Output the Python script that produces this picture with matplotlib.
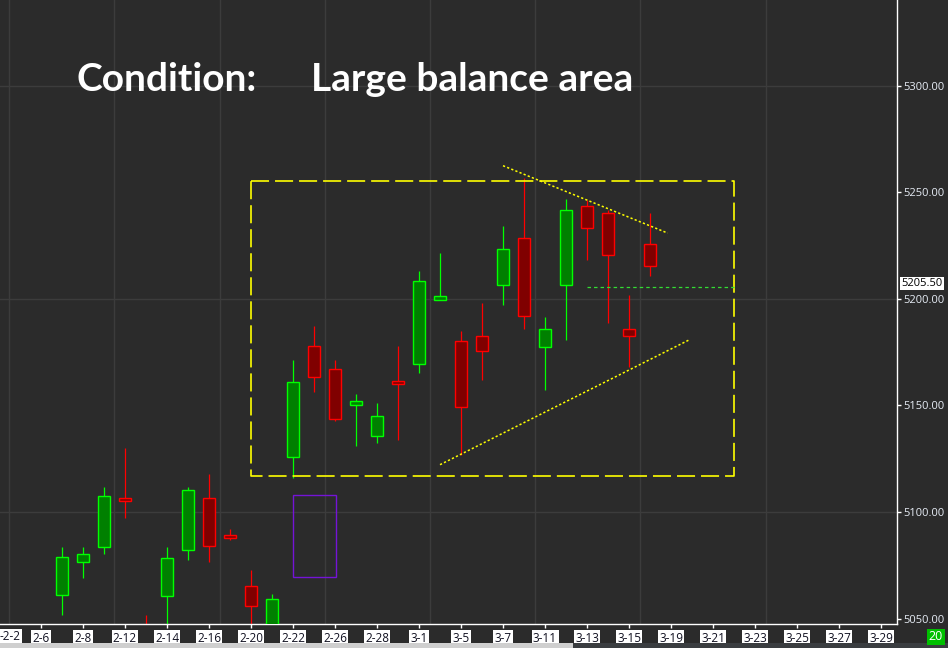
import matplotlib
matplotlib.use("Agg")
import matplotlib.pyplot as plt
import matplotlib.patches as mpatches
import matplotlib.transforms as mtransforms

plt.rcParams['lines.scale_dashes'] = False

# Velas diarias (índice de barra, 0 = 2-6)
bar_idx = list(range(1, 30))
opens = [5061.1, 5076.6, 5083.6, 5106.6, 5035.0, 5060.6, 5082.2, 5106.6, 5089.2, 5065.3,
         5030.0, 5125.8, 5177.8, 5167.0, 5150.2, 5135.6, 5161.4, 5169.4, 5199.4, 5180.2,
         5182.5, 5206.4, 5228.5, 5177.4, 5206.4, 5243.6, 5240.2, 5185.8, 5225.6]
highs = [5083.7, 5083.7, 5111.9, 5130.1, 5051.7, 5083.7, 5111.9, 5118.0, 5092.2, 5073.0,
         5061.7, 5171.4, 5187.3, 5171.4, 5155.5, 5151.2, 5178.0, 5213.1, 5221.6, 5184.9,
         5198.0, 5234.2, 5256.6, 5191.6, 5246.9, 5246.1, 5241.7, 5201.9, 5240.3]
lows = [5051.5, 5068.9, 5080.1, 5097.0, 4960.0, 5015.0, 5077.5, 5076.4, 5086.7, 5030.0,
        5020.0, 5115.9, 5156.1, 5142.5, 5130.8, 5132.2, 5133.6, 5165.0, 5199.4, 5126.7,
        5161.7, 5196.9, 5185.6, 5157.0, 5180.5, 5218.0, 5188.6, 5168.0, 5210.5]
closes = [5079.0, 5080.3, 5107.5, 5105.2, 4975.0, 5078.4, 5110.3, 5084.1, 5087.8, 5056.0,
          5059.2, 5161.0, 5163.3, 5143.6, 5152.0, 5145.0, 5160.0, 5208.3, 5201.3, 5149.2,
          5175.5, 5223.3, 5191.9, 5185.8, 5241.6, 5233.0, 5220.5, 5182.5, 5215.3]

# Etiquetas del eje x
date_ticks = list(range(0, 41, 2))
date_labels = ['2-6', '2-8', '2-12', '2-14', '2-16', '2-20', '2-22', '2-26', '2-28', '3-1',
               '3-5', '3-7', '3-11', '3-13', '3-15', '3-19', '3-21', '3-23', '3-25', '3-27', '3-29']
price_ticks = [5050, 5100, 5150, 5200, 5250, 5300]
grid_x = [-1.5, 3.5, 8.5, 13.5, 18.5, 23.5, 28.5, 34.5]
grid_y = [5100, 5200, 5300]

# Dibujos
balance_box = (10.0, 33.0, 5116.9, 5255.1)
ghost_box = (12.0, 14.03, 5069.4, 5107.8)
upper_trend = ([22.0, 29.84], [5262.4, 5230.8])
lower_trend = ([19.0, 30.84], [5122.2, 5180.6])
last_price = 5205.50
last_line = (26.0, 33.0)

BG = '#2b2b2b'
W, H = 948, 648
fig = plt.figure(figsize=(W / 100, H / 100), dpi=100, facecolor=BG)
ax = fig.add_axes([0, 24 / H, 897 / W, 624 / H], facecolor=BG)
ax.set_xlim(-1.952, 40.76)
ax.set_ylim(5047.5, 5340.1)

for gx in grid_x:
    ax.axvline(gx, color='#3c3c3c', lw=1.0, zorder=0)
for gy in grid_y:
    ax.axhline(gy, color='#3c3c3c', lw=1.0, zorder=0)

# Velas
for i, o, h, l, c in zip(bar_idx, opens, highs, lows, closes):
    up = c >= o
    edge = '#00ff00' if up else '#ff0000'
    fill = '#008000' if up else '#800000'
    ax.vlines(i, l, h, color=edge, lw=0.9, zorder=2)
    ax.bar(i, abs(c - o), bottom=min(o, c), width=0.57, color=fill,
           edgecolor=edge, linewidth=1.0, zorder=3)

# Caja de balance
x0, x1, y0, y1 = balance_box
ax.plot([x0, x1, x1, x0, x0], [y1, y1, y0, y0, y1], color='#ffff00', lw=1.2,
        dashes=(13, 4.3), zorder=4)
gx0, gx1, gy0, gy1 = ghost_box
ax.add_patch(mpatches.Rectangle((gx0, gy0), gx1 - gx0, gy1 - gy0, fill=False,
                                edgecolor='#7414d6', lw=1.0, zorder=4))
ax.plot(*upper_trend, color='#ffff00', lw=1.1, dashes=(1.6, 1.6), zorder=4)
ax.plot(*lower_trend, color='#ffff00', lw=1.1, dashes=(1.6, 1.6), zorder=4)
ax.plot(last_line, [last_price, last_price], color='#33dd33', lw=0.9,
        dashes=(2.5, 2.2), zorder=4)

# Ejes
for s in ['top', 'left']:
    ax.spines[s].set_visible(False)
for s in ['right', 'bottom']:
    ax.spines[s].set_color('white')
    ax.spines[s].set_linewidth(1.0)
ax.yaxis.tick_right()
ax.set_yticks(price_ticks)
ax.set_yticklabels([f'{p:.2f}' for p in price_ticks])
ax.tick_params(axis='y', colors='white', labelcolor='#e6ecf5', length=3, width=1,
               pad=1.5, labelsize=8)
ax.set_xticks(date_ticks)
ax.set_xticklabels(date_labels)
ax.tick_params(axis='x', colors='white', labelcolor='#101020', length=3, width=1,
               pad=2.5, labelsize=8.5)
for lab in ax.get_xticklabels() + ax.get_yticklabels():
    lab.set_fontfamily('Open Sans')
for lab in ax.get_xticklabels():
    lab.set_bbox(dict(facecolor='white', edgecolor='none', boxstyle='square,pad=0.12'))

ax.text(0.0, -0.01, '-2-2', transform=ax.transAxes, ha='left', va='top', fontsize=8.5,
        family='Open Sans', color='#101020',
        bbox=dict(facecolor='white', edgecolor='none', boxstyle='square,pad=0.12'))

trans = mtransforms.blended_transform_factory(ax.transAxes, ax.transData)
ax.text(1.005, last_price + 1.8, f'{last_price:.2f}', transform=trans, ha='left', va='center',
        fontsize=8, family='Open Sans', color='black', clip_on=False,
        bbox=dict(facecolor='white', edgecolor='none', boxstyle='square,pad=0.1'))

# Título
fig.text(77 / W, 1 - 91 / H, 'Condition:', color='white', fontsize=28, fontweight='bold',
         family='Lato', ha='left', va='baseline')
fig.text(311 / W, 1 - 91 / H, 'Large balance area', color='white', fontsize=28,
         fontweight='bold', family='Lato', ha='left', va='baseline')

# Barra inferior
fig.patches.append(mpatches.Rectangle((0, 0), 573 / W, 5 / H, transform=fig.transFigure,
                                      facecolor='#cfcfcf', edgecolor='none'))
fig.patches.append(mpatches.Rectangle((573 / W, 0), 1 - 573 / W, 5 / H,
                                      transform=fig.transFigure, facecolor='#3a3d40',
                                      edgecolor='none'))
fig.text(936 / W, 1 - 637 / H, '20', color='white', fontsize=9, family='Open Sans',
         ha='center', va='center',
         bbox=dict(facecolor='#00c000', edgecolor='none', boxstyle='square,pad=0.15'))

fig.savefig('out.png', dpi=100, facecolor=BG)
